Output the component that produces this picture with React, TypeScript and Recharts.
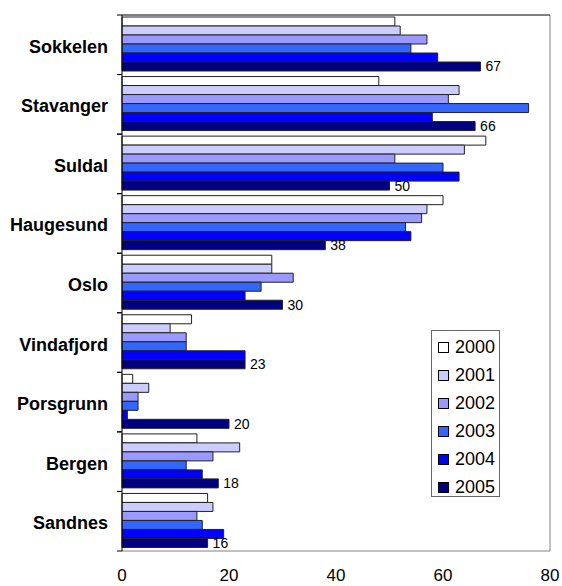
import React from 'react';
import { BarChart, Bar, XAxis, YAxis, LabelList, ReferenceLine } from 'recharts';

const cities = ['Sokkelen', 'Stavanger', 'Suldal', 'Haugesund', 'Oslo', 'Vindafjord', 'Porsgrunn', 'Bergen', 'Sandnes'];
const years = ['2000', '2001', '2002', '2003', '2004', '2005'];
const y2000 = [51, 48, 68, 60, 28, 13, 2, 14, 16];
const y2001 = [52, 63, 64, 57, 28, 9, 5, 22, 17];
const y2002 = [57, 61, 51, 56, 32, 12, 3, 17, 14];
const y2003 = [54, 76, 60, 53, 26, 12, 3, 12, 15];
const y2004 = [59, 58, 63, 54, 23, 23, 1, 15, 19];
const y2005 = [67, 66, 50, 38, 30, 23, 20, 18, 16];
const xTicks = [0, 20, 40, 60, 80];
const colors = ['#FFFFFF', '#CCCCFF', '#9999FF', '#3366FF', '#0000FF', '#000080'];

const series = [y2000, y2001, y2002, y2003, y2004, y2005];
const data = cities.map((name, i) => {
  const row: any = { name };
  years.forEach((y, j) => { row[y] = series[j][i]; });
  return row;
});

const TICK_MARGIN = 9;
const TICK_SIZE = 5;

const CityTick: React.FC<any> = ({ x, y, payload }) => {
  const off = payload.offset || 0;
  const x1 = x + TICK_MARGIN;
  const x2 = x1 + TICK_SIZE;
  return (
    <g>
      <line x1={x1} x2={x2} y1={y - off} y2={y - off} stroke="#000" />
      <line x1={x1} x2={x2} y1={y + off} y2={y + off} stroke="#000" />
      <text x={x} y={y} dy={8} textAnchor="end" fontSize={18} fontWeight="bold" fill="#000">
        {payload.value}
      </text>
    </g>
  );
};

// legend sits inside the plot, drawn over it
const LegendBox: React.FC = () => (
  <div style={{ position: 'absolute', left: 431, top: 330, border: '1px solid #666', width: 69, height: 167, boxSizing: 'border-box', paddingTop: 2, background: '#fff' }}>
    {years.map((y, i) => (
      <div key={y} style={{ display: 'flex', alignItems: 'center', height: 28 }}>
        <span style={{ width: 9, height: 9, border: '1px solid #000', background: colors[i], marginLeft: 6, marginRight: 6 }} />
        <span style={{ fontSize: 18, color: '#000', lineHeight: '28px' }}>{y}</span>
      </div>
    ))}
  </div>
);

export default function App() {
  return (
    <div style={{ position: 'absolute', left: 0, top: 0, width: 562, height: 586, fontFamily: '"Liberation Sans", Arial, sans-serif' }}>
      <BarChart
        width={562}
        height={586}
        data={data}
        layout="vertical"
        margin={{ top: 5, right: 12, bottom: 5, left: 0 }}
        barCategoryGap={2}
        barGap={0}
        style={{ fontFamily: '"Liberation Sans", Arial, sans-serif' }}
      >
        <XAxis
          xAxisId="top"
          orientation="top"
          type="number"
          domain={[0, 80]}
          ticks={xTicks}
          height={10}
          tick={false}
          tickSize={5}
          axisLine={{ stroke: '#000' }}
          tickLine={{ stroke: '#000' }}
        />
        <XAxis
          xAxisId="bottom"
          orientation="bottom"
          type="number"
          domain={[0, 80]}
          ticks={xTicks}
          height={30}
          tickLine={false}
          tickSize={0}
          tickMargin={18}
          axisLine={{ stroke: '#808080' }}
          tick={{ fill: '#000', fontSize: 17 }}
        />
        <YAxis
          type="category"
          dataKey="name"
          width={122}
          tickLine={false}
          tickSize={TICK_SIZE}
          tickMargin={TICK_MARGIN}
          axisLine={{ stroke: '#000' }}
          tick={<CityTick />}
          interval={0}
        />
        <ReferenceLine xAxisId="bottom" x={80} stroke="#808080" />
        {years.map((y, i) => (
          <Bar
            key={y}
            dataKey={y}
            xAxisId="bottom"
            fill={colors[i]}
            stroke="#222"
            strokeWidth={1}
            isAnimationActive={false}
          >
            {i === years.length - 1 && (
              <LabelList dataKey={y} position="right" offset={5} fill="#000" fontSize={14} />
            )}
          </Bar>
        ))}
      </BarChart>
      <LegendBox />
    </div>
  );
}
